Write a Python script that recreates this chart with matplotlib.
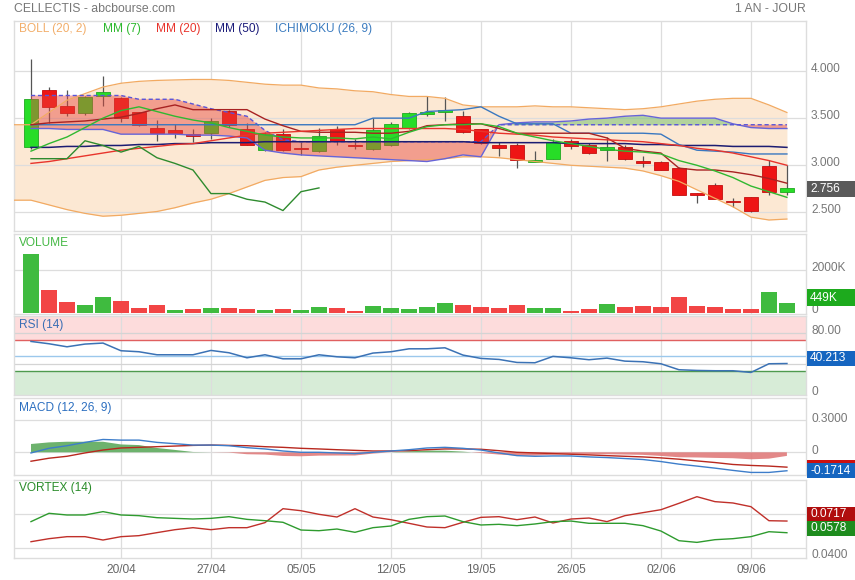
import matplotlib
matplotlib.use("Agg")
import matplotlib.pyplot as plt
from matplotlib.patches import Rectangle
import numpy as np

plt.rcParams['font.family'] = ['Liberation Sans', 'DejaVu Sans']

# ---------------- data ----------------
date_labels = ["20/04", "27/04", "05/05", "12/05", "19/05", "26/05", "02/06", "09/06"]
date_pos = [5, 10, 15, 20, 25, 30, 35, 40]

opens = [3.19, 3.80, 3.63, 3.55, 3.74, 3.71, 3.56, 3.40, 3.37, 3.33,
         3.34, 3.58, 3.38, 3.16, 3.33, 3.18, 3.15, 3.39, 3.21, 3.17,
         3.22, 3.40, 3.54, 3.56, 3.52, 3.38, 3.21, 3.21, 3.04, 3.07,
         3.26, 3.21, 3.16, 3.19, 3.05, 3.04, 2.97, 2.70, 2.79, 2.62,
         2.66, 2.99, 2.72]
highs = [4.13, 3.83, 3.80, 3.74, 3.95, 3.72, 3.57, 3.48, 3.44, 3.39,
         3.50, 3.59, 3.45, 3.35, 3.39, 3.25, 3.40, 3.42, 3.28, 3.50,
         3.46, 3.56, 3.73, 3.72, 3.58, 3.39, 3.25, 3.24, 3.15, 3.28,
         3.28, 3.24, 3.30, 3.21, 3.10, 3.05, 2.98, 2.71, 2.81, 2.65,
         2.66, 3.06, 3.00]
lows = [3.17, 3.45, 3.52, 3.53, 3.63, 3.46, 3.42, 3.26, 3.29, 3.25,
        3.28, 3.41, 3.21, 3.15, 3.15, 3.11, 3.14, 3.22, 3.17, 3.16,
        3.20, 3.38, 3.52, 3.47, 3.34, 3.23, 3.10, 2.97, 3.03, 3.07,
        3.17, 3.12, 3.05, 3.06, 2.98, 2.95, 2.68, 2.60, 2.64, 2.56,
        2.50, 2.68, 2.68]
closes = [3.70, 3.62, 3.55, 3.72, 3.78, 3.50, 3.43, 3.34, 3.34, 3.31,
          3.47, 3.43, 3.22, 3.33, 3.16, 3.17, 3.31, 3.26, 3.20, 3.37,
          3.44, 3.55, 3.57, 3.59, 3.35, 3.24, 3.18, 3.06, 3.06, 3.25,
          3.20, 3.13, 3.19, 3.07, 3.02, 2.95, 2.69, 2.69, 2.64, 2.61,
          2.51, 2.72, 2.756]

# Bollinger bands start one session before the first visible candle
boll_upper = [3.43, 3.43, 3.56, 3.69, 3.76, 3.83, 3.87, 3.89, 3.90, 3.905,
              3.91, 3.91, 3.90, 3.88, 3.86, 3.85, 3.85, 3.82, 3.81, 3.79,
              3.78, 3.75, 3.73, 3.73, 3.71, 3.64, 3.62, 3.62, 3.62, 3.63,
              3.62, 3.62, 3.61, 3.60, 3.59, 3.60, 3.62, 3.65, 3.68, 3.70,
              3.71, 3.71, 3.64, 3.56]
boll_lower = [2.63, 2.63, 2.58, 2.53, 2.49, 2.46, 2.47, 2.49, 2.51, 2.55,
              2.60, 2.64, 2.70, 2.77, 2.84, 2.87, 2.88, 2.95, 2.98, 3.00,
              3.02, 3.04, 3.05, 3.06, 3.07, 3.09, 3.09, 3.08, 3.06, 3.04,
              3.02, 3.00, 2.99, 2.98, 2.97, 2.94, 2.89, 2.83, 2.74, 2.65,
              2.56, 2.45, 2.42, 2.43]

mm7 = [3.15, 3.23, 3.30, 3.40, 3.50, 3.58, 3.62, 3.57, 3.52, 3.48,
       3.45, 3.40, 3.36, 3.32, 3.30, 3.29, 3.29, 3.29, 3.28, 3.30,
       3.28, 3.35, 3.41, 3.43, 3.43, 3.44, 3.41, 3.34, 3.30, 3.26,
       3.23, 3.20, 3.17, 3.15, 3.14, 3.12, 3.05, 3.00, 2.94, 2.87,
       2.78, 2.72, 2.66]
mm20 = [3.02, 3.04, 3.07, 3.10, 3.13, 3.16, 3.18, 3.20, 3.22, 3.23,
        3.26, 3.29, 3.32, 3.34, 3.35, 3.36, 3.37, 3.38, 3.39, 3.39,
        3.39, 3.39, 3.39, 3.39, 3.38, 3.36, 3.34, 3.33, 3.32, 3.30,
        3.29, 3.28, 3.27, 3.26, 3.25, 3.23, 3.21, 3.18, 3.16, 3.13,
        3.09, 3.05, 3.00]
mm50 = [3.19, 3.19, 3.20, 3.20, 3.21, 3.21, 3.22, 3.22, 3.23, 3.23,
        3.24, 3.24, 3.24, 3.25, 3.25, 3.25, 3.25, 3.25, 3.25, 3.25,
        3.25, 3.25, 3.25, 3.25, 3.25, 3.24, 3.24, 3.24, 3.24, 3.24,
        3.23, 3.23, 3.23, 3.23, 3.22, 3.22, 3.21, 3.21, 3.21, 3.20,
        3.20, 3.20, 3.19]

tenkan = [3.43, 3.45, 3.46, 3.47, 3.49, 3.51, 3.55, 3.60, 3.64, 3.59,
          3.59, 3.59, 3.59, 3.49, 3.42, 3.36, 3.35, 3.35, 3.35, 3.34,
          3.34, 3.36, 3.42, 3.43, 3.44, 3.44, 3.39, 3.34, 3.34, 3.34,
          3.34, 3.34, 3.29, 3.18, 3.15, 3.13, 2.97, 2.95, 2.95, 2.93,
          2.90, 2.86, 2.81]
kijun = [3.43, 3.43, 3.43, 3.43, 3.43, 3.43, 3.43, 3.43, 3.43, 3.43,
         3.43, 3.43, 3.43, 3.43, 3.43, 3.43, 3.43, 3.43, 3.43, 3.50,
         3.50, 3.50, 3.57, 3.58, 3.59, 3.62, 3.52, 3.44, 3.44, 3.44,
         3.34, 3.34, 3.34, 3.34, 3.34, 3.33, 3.22, 3.16, 3.15, 3.14,
         3.12, 3.12, 3.12]
span_a = [3.39, 3.39, 3.38, 3.38, 3.38, 3.33, 3.33, 3.33, 3.33, 3.32,
          3.32, 3.31, 3.29, 3.16, 3.13, 3.11, 3.10, 3.09, 3.08, 3.07,
          3.06, 3.05, 3.04, 3.07, 3.11, 3.09, 3.43, 3.45, 3.46, 3.46,
          3.47, 3.49, 3.50, 3.52, 3.53, 3.50, 3.50, 3.50, 3.50, 3.44,
          3.40, 3.39, 3.39]
span_b = [3.74, 3.74, 3.74, 3.74, 3.74, 3.74, 3.70, 3.70, 3.70, 3.65,
          3.60, 3.56, 3.52, 3.37, 3.27, 3.25, 3.25, 3.25, 3.25, 3.25,
          3.25, 3.25, 3.25, 3.25, 3.25, 3.25, 3.43, 3.43, 3.43, 3.43,
          3.43, 3.43, 3.43, 3.43, 3.43, 3.43, 3.43, 3.43, 3.43, 3.43,
          3.43, 3.43, 3.43]
chikou = [3.07, 3.07, 3.07, 3.26, 3.21, 3.14, 3.20, 3.08, 3.02, 2.95,
          2.70, 2.70, 2.64, 2.61, 2.52, 2.72, 2.76]

volume_k = [2766, 1063, 516, 359, 750, 547, 234, 344, 125, 172,
            234, 234, 188, 109, 188, 141, 266, 203, 94, 313,
            234, 165, 281, 453, 344, 266, 234, 359, 203, 219,
            78, 172, 391, 250, 313, 281, 719, 297, 250, 188,
            172, 984, 449]
volume_dir = ['G', 'R', 'R', 'G', 'G', 'R', 'R', 'R', 'G', 'R',
              'G', 'R', 'R', 'G', 'R', 'G', 'G', 'R', 'R', 'G',
              'G', 'G', 'G', 'G', 'R', 'R', 'R', 'R', 'G', 'G',
              'R', 'R', 'G', 'R', 'R', 'R', 'R', 'R', 'R', 'R',
              'R', 'G', 'G']

rsi = [68.7, 65.7, 61.8, 65.3, 66.6, 56.7, 55.4, 51.5, 51.5, 51.5,
       57.1, 54.1, 47.6, 51.5, 46.3, 46.3, 51.5, 48.9, 47.6, 53.7,
       55.4, 59.2, 59.2, 60.5, 51.1, 46.8, 45.5, 41.6, 41.2, 49.4,
       47.6, 45.1, 47.2, 43.3, 42.5, 39.9, 32.2, 31.3, 30.9, 30.9,
       28.7, 39.9, 40.213]

macd = [-0.006, 0.037, 0.061, 0.092, 0.119, 0.113, 0.113, 0.092, 0.080, 0.067,
        0.067, 0.061, 0.043, 0.031, 0.012, 0.000, 0.000, -0.006, -0.012, 0.000,
        0.012, 0.024, 0.040, 0.046, 0.037, 0.021, -0.006, -0.031, -0.037, -0.034,
        -0.034, -0.043, -0.049, -0.058, -0.067, -0.086, -0.110, -0.128, -0.147, -0.168,
        -0.187, -0.187, -0.1714]
macd_signal = [-0.083, -0.055, -0.037, -0.006, 0.021, 0.040, 0.046, 0.052, 0.058, 0.064,
               0.067, 0.064, 0.061, 0.052, 0.046, 0.037, 0.031, 0.024, 0.018, 0.012,
               0.012, 0.015, 0.024, 0.031, 0.031, 0.028, 0.015, 0.000, -0.006, -0.012,
               -0.018, -0.024, -0.031, -0.037, -0.043, -0.052, -0.064, -0.080, -0.095, -0.113,
               -0.122, -0.128, -0.138]

vi_plus = [0.0710, 0.0809, 0.0789, 0.0789, 0.0829, 0.0789, 0.0781, 0.0757, 0.0749, 0.0741,
           0.0749, 0.0769, 0.0737, 0.0721, 0.0702, 0.0610, 0.0602, 0.0622, 0.0583, 0.0638,
           0.0658, 0.0737, 0.0769, 0.0777, 0.0710, 0.0670, 0.0678, 0.0662, 0.0682, 0.0710,
           0.0717, 0.0690, 0.0690, 0.0690, 0.0662, 0.0598, 0.0483, 0.0463, 0.0495, 0.0507,
           0.0531, 0.0590, 0.0578]
vi_minus = [0.0471, 0.0507, 0.0531, 0.0531, 0.0491, 0.0531, 0.0543, 0.0579, 0.0614, 0.0638,
            0.0614, 0.0638, 0.0638, 0.0698, 0.0864, 0.0840, 0.0797, 0.0765, 0.0864, 0.0765,
            0.0733, 0.0690, 0.0646, 0.0638, 0.0702, 0.0761, 0.0769, 0.0733, 0.0765, 0.0694,
            0.0741, 0.0753, 0.0710, 0.0781, 0.0817, 0.0852, 0.0928, 0.1007, 0.0948, 0.0932,
            0.0888, 0.0721, 0.0717]

# ---------------- layout ----------------
W, H = 855, 580
fig = plt.figure(figsize=(W / 100, H / 100), dpi=100, facecolor='white')
XMIN, XMAX = -0.944, 43.06
GRID = '#DDDDDD'
FS = 8.6

n = len(closes)
idx = np.arange(n)
idx_band = np.arange(-1, n)


def panel(top, bottom, ylim):
    ax = fig.add_axes([14 / W, 1 - bottom / H, 792 / W, (bottom - top) / H])
    ax.set_xlim(XMIN, XMAX)
    ax.set_ylim(*ylim)
    ax.set_xticks([])
    ax.set_yticks([])
    for s in ax.spines.values():
        s.set_color(GRID)
        s.set_linewidth(1)
    for p in date_pos:
        ax.axvline(p, color=GRID, lw=0.9, zorder=0.6)
    return ax


ax_p = panel(21, 230.7, (2.3064, 4.530))
ax_v = panel(234, 314, (-61, 3712))
ax_r = panel(315.7, 394.5, (0.26, 101.9))
ax_m = panel(398, 475, (-0.2108, 0.504))
ax_x = panel(480, 558, (0.0277, 0.12056))

# ---------------- price panel ----------------
for lv in [2.5, 3.0, 3.5, 4.0]:
    ax_p.axhline(lv, color=GRID, lw=0.9, zorder=1.5)

ax_p.fill_between(idx_band, boll_lower, boll_upper, color='#FCE8D3', lw=0, zorder=1)
ax_p.plot(idx_band, boll_upper, color='#F2AA62', lw=0.9, zorder=4)
ax_p.plot(idx_band, boll_lower, color='#F2AA62', lw=0.9, zorder=4)

o = np.array(opens); c = np.array(closes)
up = c >= o
body_col = np.where(up, '#27DD27', '#EE1515')
edge_col = np.where(up, '#20A820', '#C40E0E')
ax_p.vlines(idx, lows, highs, color='#555555', lw=0.9, zorder=2)
ax_p.bar(idx, np.maximum(np.abs(c - o), 0.012), bottom=np.minimum(o, c), width=0.8,
         color=body_col, edgecolor=edge_col, lw=0.6, zorder=2.2)

sa = np.array(span_a); sb = np.array(span_b)
ax_p.fill_between(idx, sa, sb, where=sb >= sa, interpolate=True, color='#E8453A',
                  alpha=0.45, lw=0, zorder=3)
ax_p.fill_between(idx, sa, sb, where=sa >= sb, interpolate=True, color='#5CB85C',
                  alpha=0.45, lw=0, zorder=3)
ax_p.plot(idx, span_a, color='#6664D8', lw=1.0, zorder=4)
ax_p.plot(idx, span_b, color='#5A55D8', lw=1.0, ls=(0, (3, 2)), zorder=4)

ax_p.plot(idx, mm50, color='#1C1C72', lw=1.1, zorder=4)
ax_p.plot(idx, kijun, color='#3A78C0', lw=1.0, zorder=4)
ax_p.plot(idx, tenkan, color='#A82222', lw=1.0, zorder=4)
ax_p.plot(idx, mm20, color='#E8342C', lw=1.0, zorder=4)
ax_p.plot(idx, mm7, color='#30B830', lw=1.0, zorder=4)
ax_p.plot(idx[:len(chikou)], chikou, color='#2E8B2E', lw=1.0, zorder=4)

# ---------------- volume panel ----------------
ax_v.axhline(2000, color=GRID, lw=0.9, zorder=0.6)
vcol = ['#3FBB3F' if d == 'G' else '#F24545' for d in volume_dir]
ax_v.bar(idx, volume_k, width=0.92, color=vcol, lw=0, zorder=2)

# ---------------- RSI panel ----------------
ax_r.axhspan(70, 110, color='#FDDCDC', lw=0, zorder=0.3)
ax_r.axhspan(-10, 30, color='#D7ECD7', lw=0, zorder=0.3)
for lv in [40, 80]:
    ax_r.axhline(lv, color='#D4D4D4', lw=0.9, zorder=0.7)
ax_r.axhline(70, color='#E06060', lw=1.0, zorder=1)
ax_r.axhline(30, color='#4E9A4E', lw=1.0, zorder=1)
ax_r.axhline(50, color='#9CC8EC', lw=1.0, zorder=1)
ax_r.plot(idx, rsi, color='#3B72B5', lw=1.1, zorder=3)

# ---------------- MACD panel ----------------
for lv in [0.0, 0.3]:
    ax_m.axhline(lv, color=GRID, lw=0.9, zorder=0.7)
m = np.array(macd); s = np.array(macd_signal)
hist = m - s
ax_m.fill_between(idx, 0, hist, where=hist >= 0, interpolate=True, color='#5DAA5D',
                  alpha=0.9, lw=0, zorder=1)
ax_m.fill_between(idx, 0, hist, where=hist <= 0, interpolate=True, color='#E07B7B',
                  alpha=0.9, lw=0, zorder=1)
ax_m.plot(idx, macd_signal, color='#B8281E', lw=1.0, zorder=3)
ax_m.plot(idx, macd, color='#3D7DCA', lw=1.0, zorder=3)

# ---------------- Vortex panel ----------------
for lv in [0.04, 0.08]:
    ax_x.axhline(lv, color=GRID, lw=0.9, zorder=0.7)
ax_x.plot(idx, vi_minus, color='#C0302A', lw=1.0, zorder=3)
ax_x.plot(idx, vi_plus, color='#2E9B2E', lw=1.0, zorder=3)

# ---------------- texts ----------------
GRAY = '#777777'
fig.text(14 / W, 1 - 9 / H, 'CELLECTIS - abcbourse.com', color=GRAY, fontsize=8.8, va='center')
fig.text(806 / W, 1 - 9 / H, '1 AN - JOUR', color=GRAY, fontsize=8.8, va='center', ha='right')

legend = [('BOLL (20, 2)', '#F2AE6A', 19), ('MM (7)', '#2DB82D', 103),
          ('MM (20)', '#E8342C', 156), ('MM (50)', '#1C1C7A', 215),
          ('ICHIMOKU (26, 9)', '#3C7CC0', 275)]
for txt, col, xp in legend:
    fig.text(xp / W, 1 - 29 / H, txt, color=col, fontsize=FS, va='center')

fig.text(19 / W, 1 - 243 / H, 'VOLUME', color='#45B845', fontsize=FS, va='center')
fig.text(19 / W, 1 - 325 / H, 'RSI (14)', color='#3A6EB5', fontsize=FS, va='center')
fig.text(19 / W, 1 - 407.5 / H, 'MACD (12, 26, 9)', color='#2C6FC0', fontsize=FS, va='center')
fig.text(19 / W, 1 - 488 / H, 'VORTEX (14)', color='#2A8C2A', fontsize=FS, va='center')


def ypx(ax, v):
    return ax.transData.transform((0, v))[1]


def rlabel(ax, v, text, dy=2):
    fig.text(811 / W, (ypx(ax, v) + dy) / H, text, color=GRAY, fontsize=FS, va='center', ha='left')


def tag(ax, v, text, color, dy=0.0, h=16):
    y = ypx(ax, v) + dy
    fig.add_artist(Rectangle((807 / W, (y - h / 2) / H), 48 / W, h / H, transform=fig.transFigure,
                             facecolor=color, edgecolor='none', zorder=5))
    fig.text(810 / W, y / H, text, color='white', fontsize=FS, va='center', ha='left', zorder=6)


for lv, t in [(4.0, '4.000'), (3.5, '3.500'), (3.0, '3.000'), (2.5, '2.500')]:
    rlabel(ax_p, lv, t)
rlabel(ax_v, 2000, '2000K')
rlabel(ax_v, 0, '0', dy=3)
rlabel(ax_r, 80, '80.00')
rlabel(ax_r, 0, '0', dy=3)
rlabel(ax_m, 0.3, '0.3000', dy=1)
rlabel(ax_m, 0.0, '0', dy=1)
rlabel(ax_x, 0.04, '0.0400', dy=-7)

tag(ax_p, closes[-1], '2.756', '#5A5A5A', dy=-1)
tag(ax_v, volume_k[-1], '449K', '#1DAA1D', dy=5.5, h=17)
tag(ax_r, rsi[-1], '40.213', '#1565C0', dy=5.5, h=15)
tag(ax_m, macd_signal[-1], '', '#CC1010', dy=0, h=15)
tag(ax_m, macd[-1], '-0.1714', '#1565C0', dy=0, h=15)
tag(ax_x, vi_minus[-1], '0.0717', '#B00E0E', dy=7, h=15)
tag(ax_x, vi_plus[-1], '0.0578', '#1E8C1E', dy=4.5, h=15)

for p, lab in zip(date_pos, date_labels):
    xd = ax_x.transData.transform((p, 0))[0]
    fig.text(xd / W, 1 - 570 / H, lab, color='#666666', fontsize=FS, va='center', ha='center')

fig.savefig('out.png', dpi=100, facecolor='white')
